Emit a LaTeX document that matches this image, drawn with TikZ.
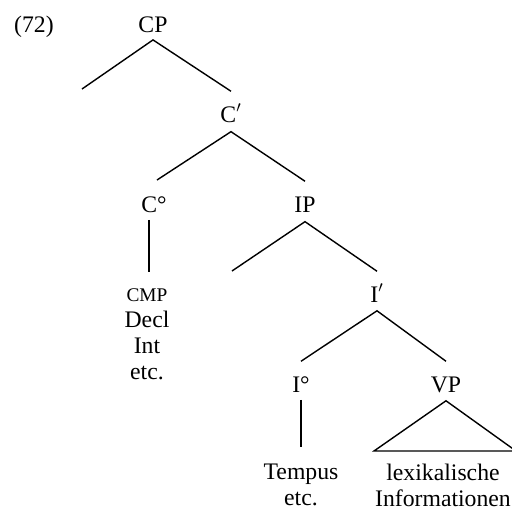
\documentclass[tikz,border=0pt]{standalone}
\usepackage{fontspec}
\setmainfont{Liberation Serif}
\tikzset{
  cat/.style={inner sep=0pt, font=\fontsize{13.5}{14.8}\selectfont, align=center},
}
\begin{document}
\begin{tikzpicture}[x=0.02cm,y=-0.02cm,line width=0.8pt]
\useasboundingbox (0,0) rectangle (512,512);
% labels
\node[cat, anchor=base] (ex) at (34,32) {(72)};
\node[cat, anchor=base] (cp) at (153,32) {CP};
\node[cat, anchor=base] (cbar) at (231,122) {C$'$};
\node[cat, anchor=base] (c0) at (154,212) {C\textdegree};
\node[cat, anchor=base] (ip) at (305,212) {IP};
\node[cat, anchor=base] (ibar) at (377,302) {I$'$};
\node[cat, anchor=base] (i0) at (301,392) {I\textdegree};
\node[cat, anchor=base] (vp) at (446,392) {VP};
\node[cat, anchor=north] (cmp) at (147,288) {{\fontsize{11}{14.8}\selectfont CMP}\\Decl\\Int\\etc.};
\node[cat, anchor=north] (tempus) at (301,463) {Tempus\\etc.};
\node[cat, anchor=north] (lex) at (443,463) {lexikalische\\Informationen};
% free ends
\coordinate (cpL) at (82,89);
\coordinate (cbarL) at (157,180);
\coordinate (ipL) at (232,271);
\coordinate (c0b) at ([yshift=-4.5pt]c0.base);
\coordinate (vpT) at ([yshift=-5pt]vp.base);
\coordinate (vpL) at (374,451);
\coordinate (vpR) at (516,451);
% branches
\draw (cpL) -- ([yshift=-4.5pt]cp.base) -- ([yshift=17.5pt]cbar.base);
\draw (cbarL) -- ([yshift=-5.5pt]cbar.base) -- ([yshift=17.5pt]ip.base);
\draw (c0b -| 149,0) -- ([yshift=9pt]cmp.north -| 149,0);
\draw (ipL) -- ([yshift=-5.5pt]ip.base) -- ([yshift=17.5pt]ibar.base);
\draw ([yshift=17.5pt]i0.base) -- ([yshift=-5pt]ibar.base) -- ([yshift=17.5pt]vp.base);
\draw ([yshift=-4.5pt]i0.base) -- ([yshift=9pt]tempus.north);
\draw (vpT) -- (vpL) -- (vpR) -- cycle;
\end{tikzpicture}
\end{document}
